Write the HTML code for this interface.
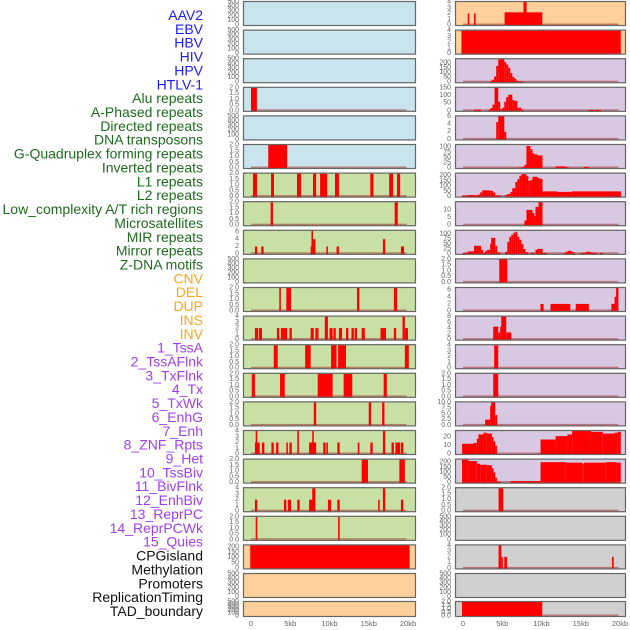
<!DOCTYPE html>
<html><head><meta charset="utf-8"><style>
html,body{margin:0;padding:0;background:#fff;width:630px;height:630px;overflow:hidden}
svg{display:block;font-family:"Liberation Sans",sans-serif}
</style></head><body>
<svg id="chart" width="630" height="630" viewBox="0 0 630 630"></svg>
<script>
const labels=["AAV2","EBV","HBV","HIV","HPV","HTLV-1","Alu repeats","A-Phased repeats","Directed repeats","DNA transposons","G-Quadruplex forming repeats","Inverted repeats","L1 repeats","L2 repeats","Low_complexity A/T rich regions","Microsatellites","MIR repeats","Mirror repeats","Z-DNA motifs","CNV","DEL","DUP","INS","INV","1_TssA","2_TssAFlnk","3_TxFlnk","4_Tx","5_TxWk","6_EnhG","7_Enh","8_ZNF_Rpts","9_Het","10_TssBiv","11_BivFlnk","12_EnhBiv","13_ReprPC","14_ReprPCWk","15_Quies","CPGisland","Methylation","Promoters","ReplicationTiming","TAD_boundary"];
const labelGroups=[6,13,5,15,5];
const groupColors=["#1a1aff","#1f6b1f","#ffa51a","#a040f0","#111111"];
const xTicks=[0,5,10,15,20];
const xTickLabels=["0","5kb","10kb","15kb","20kb"];
const leftBg=["#c9e4ec","#c9e4ec","#c9e4ec","#c9e4ec","#c9e4ec","#c9e4ec","#c8e0a4","#c8e0a4","#c8e0a4","#c8e0a4","#c8e0a4","#c8e0a4","#c8e0a4","#c8e0a4","#c8e0a4","#c8e0a4","#c8e0a4","#c8e0a4","#c8e0a4","#ffd09c","#ffd09c","#ffd09c"];
const rightBg=["#ffd09c","#ffd09c","#d8c8e2","#d8c8e2","#d8c8e2","#d8c8e2","#d8c8e2","#d8c8e2","#d8c8e2","#d8c8e2","#d8c8e2","#d8c8e2","#d8c8e2","#d8c8e2","#d8c8e2","#d8c8e2","#d8c8e2","#d0d0d0","#d0d0d0","#d0d0d0","#d0d0d0","#d0d0d0"];
const T500=["0","100","200","300","400","500"],T2=["0.0","0.5","1.0","1.5","2.0"];
const leftTicks=[T500,T500,T500,T2,T500,T2,T2,T2,["0","2","4","6"],T500,T2,["0","1","2","3","4"],T2,T2,T2,["0","1","2","3","4"],T2,["0","1","2","3","4"],T2,["0","50","100","150","200"],T500,T500];
const leftMax=[500,500,500,2,500,2,2,2,6.3,500,2,4,2,2,2,4,2,4,2,215,500,500];
const leftSegs=[[],[],[],[[0,0.75,2]],[],[[2.2,4.6,2]],
[[0.25,0.76,2],[2.55,2.93,2],[5.86,6.37,2],[7.9,8.3,2],[8.8,9.7,2],[10.7,11.2,2],[15.2,15.6,2],[17.6,18.1,2],[18.6,19.0,2]],
[[2.5,2.8,2],[18.3,18.7,2]],
[[0.5,0.8,2],[1.3,1.6,2],[7.6,8.2,2],[7.7,7.9,6.3],[7.9,8.2,4],[9.6,9.8,2],[10.9,11.2,2],[16.8,17.1,4],[19.1,19.5,2]],
[],
[[3.6,3.8,2],[4.5,5.1,2],[13.5,13.8,2],[18.2,18.6,2]],
[[0.5,0.9,2],[1.0,1.4,2],[3.3,3.6,2],[3.8,4.6,2],[4.9,5.2,2],[7.6,8.0,2],[8.2,8.6,2],[9.4,9.8,4],[10.0,10.4,2],[10.5,10.8,2],[11.2,11.6,2],[12.1,12.4,2],[12.8,13.1,2],[13.2,13.5,2],[14.1,14.5,2],[16.5,17.2,2],[18.2,18.5,2],[19.3,19.6,4],[19.6,20.0,2]],
[[2.9,3.4,2],[6.9,7.6,2],[10.2,10.9,2],[11.1,12.1,2],[19.6,20.1,2]],
[[0.1,0.5,2],[3.7,4.3,2],[8.5,10.4,2],[11.8,12.9,2],[16.9,17.3,2]],
[[8.0,8.3,2],[15.0,15.3,2],[16.7,17.0,2]],
[[0.5,1.1,2],[0.6,0.8,4],[1.4,1.7,2],[2.6,2.9,2],[3.2,3.5,2],[4.5,4.7,2],[4.9,5.2,2],[5.9,6.1,4],[7.4,8.3,2],[7.8,8.0,4],[9.2,9.5,2],[9.6,9.8,2],[11.0,11.3,2],[13.6,13.8,2],[15.2,15.5,2],[16.8,17.1,4],[17.9,18.2,2],[18.4,19.0,2],[19.1,19.4,2]],
[[14.1,14.9,2],[18.9,19.6,2]],
[[0.5,0.8,2],[4.2,4.5,2],[4.7,5.1,2],[5.9,6.2,2],[7.4,8.0,2],[7.8,8.2,4],[9.8,10.2,2],[11.0,11.3,2],[16.2,16.4,2],[16.8,17.1,4],[19.1,19.4,2]],
[[0.6,0.8,2],[11.1,11.3,2]],
[[-0.1,20.2,215]],[],[]];
const rightTicks=[["0","1","2","3","4"],["0","1","2","3","4"],["0","50","100","150","200"],["0","50","100","150"],["0","2","4","6"],["0","25","50","75","100"],["0","50","100","150","200"],["0","5","10"],["0","25","50","75","100"],T2,["0","2","4","6"],["0","2","4","6","8"],["0","1","2","3","4"],T2,["0.0","2.5","5.0","7.5","10.0"],["0","10","20"],["0","50","100","150","200"],T2,T500,["0","1","2","3","4"],T500,T2];
const rightMax=[4,4,240,150,6,110,220,15,115,2,6.5,8,4,2,10,27,225,2,500,4,500,2];
const rightSegs=[
[[0.6,0.8,2],[1.4,1.6,2],[5.3,10.1,2.2],[7.7,8.1,4]],
[[-0.2,20.1,4]],
[[3.46,3.68,10],[3.68,3.97,25],[3.97,4.23,60],[4.23,4.49,170],[4.49,5.26,240],[5.26,5.51,210],[5.51,5.77,185],[5.77,6.03,150],[6.03,6.28,95],[6.28,6.54,55],[6.54,6.8,35],[6.8,7.05,15],[7.05,7.69,8]],
[[1.41,2.31,8],[3.25,3.5,8],[3.5,3.76,18],[3.76,4.02,40],[4.02,4.49,150],[4.49,4.74,60],[4.74,5.0,10],[5.0,5.26,20],[5.26,5.51,60],[5.51,5.77,90],[5.77,6.28,105],[6.28,6.54,70],[6.54,6.92,65],[6.92,7.43,20],[7.43,7.69,8],[16.0,16.7,6],[16.8,17.6,6]],
[[4.23,4.49,4.5],[4.49,5.26,6],[5.26,5.51,2]],
[[7.05,7.56,2],[7.56,7.82,5],[7.82,8.08,15],[8.08,8.59,105],[8.59,8.85,90],[8.85,9.1,70],[9.1,9.49,65],[9.49,10.13,60],[11.8,13.08,8],[13.08,13.46,4],[15.38,16.03,5]],
[[-0.13,0.64,10],[0.64,1.54,15],[1.54,1.92,12],[1.92,2.18,20],[2.18,2.44,40],[2.44,3.46,60],[3.46,3.85,55],[3.85,4.1,40],[4.1,4.87,10],[5.38,5.64,15],[5.64,6.03,25],[6.03,6.28,45],[6.28,6.67,80],[6.67,6.92,140],[6.92,7.18,165],[7.18,7.44,200],[7.44,8.08,215],[8.08,8.33,195],[8.33,8.59,150],[8.59,8.85,160],[8.85,9.49,190],[9.49,9.74,180],[9.74,10.13,170],[10.13,12.05,50],[12.05,13.85,45],[13.85,20.13,50]],
[[7.82,8.08,3],[8.08,8.85,10],[8.85,9.1,8],[9.1,9.23,6],[9.23,9.62,12],[9.62,10.13,15]],
[[-0.13,0.26,3],[0.26,0.64,6],[0.64,1.41,12],[1.41,2.31,40],[2.31,2.56,20],[2.56,2.82,5],[2.82,3.08,15],[3.08,3.46,20],[3.46,3.59,50],[3.59,4.1,80],[4.1,4.36,40],[4.36,4.74,8],[5.38,5.64,10],[5.64,5.9,60],[5.9,6.15,85],[6.15,6.41,95],[6.41,6.67,105],[6.67,6.92,110],[6.92,7.18,85],[7.18,7.44,70],[7.44,7.69,50],[7.69,7.95,25],[7.95,8.33,8],[8.59,9.1,5],[9.23,9.49,20],[9.49,10.13,25],[10.13,10.64,5],[12.82,13.08,5],[13.08,13.33,10],[13.33,13.85,15],[13.85,14.23,8],[15.0,15.64,5],[15.64,16.28,10],[16.28,17.05,6],[17.44,17.82,5]],
[[4.62,5.64,2]],
[[9.87,10.26,2],[11.15,13.67,2],[14.36,16.03,2],[18.9,19.3,2],[19.3,19.5,4],[19.5,19.8,6.5]],
[[3.85,4.49,4.5],[4.49,4.74,2.5],[4.74,4.87,4.5],[4.87,5.51,8],[5.51,6.15,2.5]],
[[3.97,4.49,4]],
[[3.85,4.49,2]],
[[2.82,3.46,2.5],[3.46,3.59,8.5],[3.59,4.1,10],[4.1,4.36,4.5]],
[[-0.12,1.33,12],[1.33,1.76,13],[1.76,1.97,18],[1.97,2.61,23],[2.61,3.04,25],[3.04,3.68,24],[3.68,3.89,20],[3.89,4.11,15],[4.11,4.32,10],[9.88,11.8,17],[11.8,13.3,21],[13.3,13.9,23],[13.9,16.3,27],[16.3,17.8,26],[17.8,19.3,24],[19.3,19.7,25],[19.7,20.1,26]],
[[-0.12,0.69,225],[0.69,1.76,210],[1.76,2.18,185],[2.18,3.04,175],[3.04,3.68,170],[3.68,3.89,140],[3.89,4.11,100],[4.11,4.32,50],[4.32,4.83,10],[6.03,9.88,15],[9.88,13.08,200],[13.08,15.2,195],[15.2,15.4,185],[15.4,18.2,195],[18.2,19.5,200],[19.5,20.1,195]],
[[4.53,5.13,2]],
[],
[[4.53,4.88,4],[4.88,5.0,2],[5.26,5.6,2],[18.98,19.2,2]],
[],
[[-0.13,10.1,2]]];

const svg=document.getElementById('chart');
const NS='http://www.w3.org/2000/svg';
function mk(tag,attrs,parent){const e=document.createElementNS(NS,tag);for(const k in attrs)e.setAttribute(k,attrs[k]);(parent||svg).appendChild(e);return e;}

let li=0;
labelGroups.forEach((n,g)=>{for(let j=0;j<n;j++){const t=mk('text',{x:203,y:15+li*13.86,'text-anchor':'end','dominant-baseline':'central','font-size':'14',fill:groupColors[g]});


t.textContent=labels[li];li++;}});

function panelTop(i){return i<21?1+i*28.6:601;}
function panelH(i){return i<21?25:16;}
function drawCol(px,pw,bgs,ticks,maxs,segs,zeroX,side){
  const xs=kb=>zeroX+kb*7.85;
  for(let i=0;i<22;i++){
    const top=panelTop(i),h=panelH(i);
    const g=mk('g',{});
    
    
    const bg=mk('rect',{x:px,y:top,width:pw,height:h,fill:bgs[i]},g);
    
    
    const y0=top+h-1,y1=top+1;
    const ys=v=>y0-(v/maxs[i])*(y0-y1);
    ticks[i].forEach(lab=>{const v=parseFloat(lab);
      const t=mk('text',{x:px-4,y:ys(v),'text-anchor':'end','dominant-baseline':'central','font-size':'7',fill:'#666'},g);
      
      
      t.textContent=lab;});
    if(segs[i].length){
      const base=mk('rect',{x:xs(0),y:y0-1.5,width:xs(19.8)-xs(0),height:1.5,fill:'rgba(160,30,30,0.5)'},g);
      
      
    }
    segs[i].forEach(s=>{
      const a=Math.max(px,xs(s[0])),b=Math.min(px+pw,xs(s[1]));
      const r=mk('rect',{x:a,y:ys(s[2]),width:Math.max(1.5,b-a),height:y0-ys(s[2])+1,fill:'#ff0000'},g);
      
      
    });
    const br=mk('rect',{x:px+0.5,y:top+0.5,width:pw-1,height:h-1,fill:'none',stroke:'#666','stroke-width':1.2},g);
    
    
  }
  xTicks.forEach((v,k)=>{const t=mk('text',{x:xs(v),y:626,'text-anchor':'middle','font-size':'7.5',fill:'#666'});
    
    
    t.textContent=xTickLabels[k];});
}
drawCol(243,173,leftBg,leftTicks,leftMax,leftSegs,251,'left');
drawCol(455,171,rightBg,rightTicks,rightMax,rightSegs,463,'right');
</script>
</body></html>
